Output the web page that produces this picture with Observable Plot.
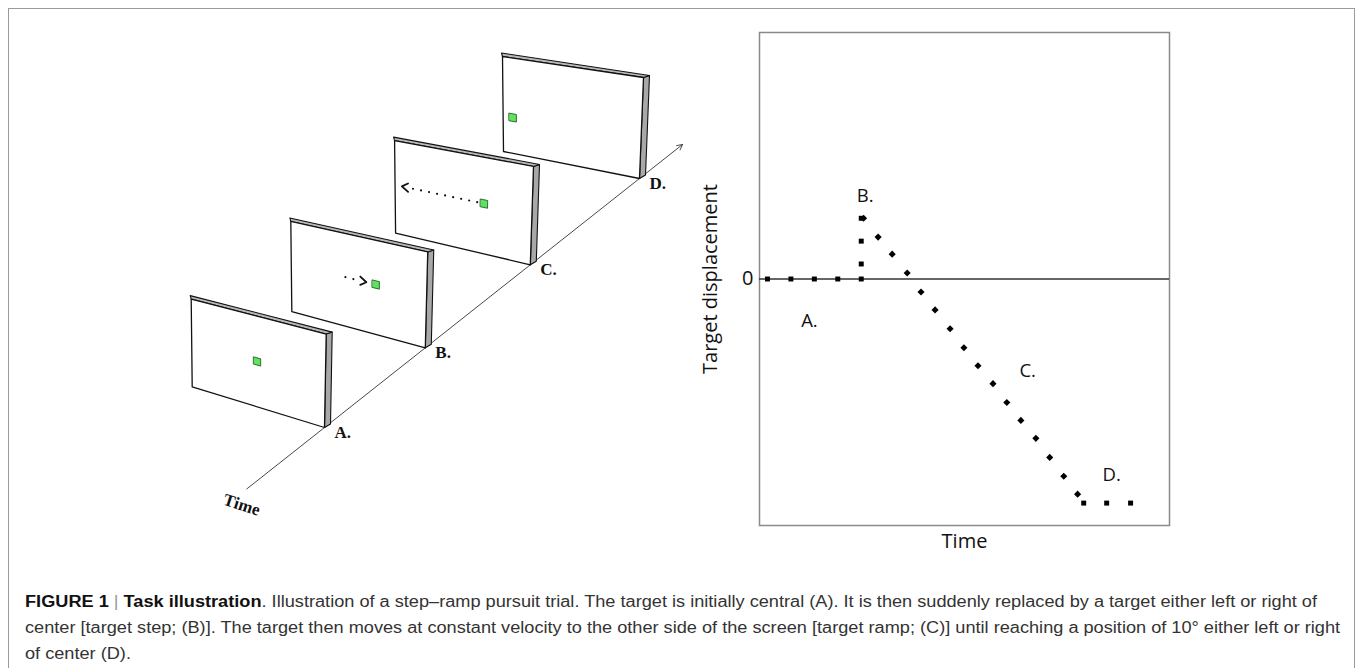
<!DOCTYPE html>
<html><head><meta charset="utf-8">
<script src="https://cdn.jsdelivr.net/npm/d3@7"></script>
<script src="https://cdn.jsdelivr.net/npm/@observablehq/plot@0.6"></script>
<style>
body{margin:0;background:#fff;}
#fig{position:relative;width:1358px;height:668px;overflow:hidden;background:#fff;}
#border{position:absolute;left:8px;top:8px;width:1347px;height:720px;border:1.5px solid #9a9a9a;box-sizing:border-box;}
#left{position:absolute;left:0;top:0;}
#right{position:absolute;left:690px;top:20px;}
#caption{position:absolute;left:25px;top:589px;font-family:"Liberation Sans",Arial,sans-serif;font-size:16px;line-height:26px;color:#333;white-space:nowrap;transform:scaleX(1.135);transform-origin:0 0;}
#caption b{color:#111;}
.bar{color:#999;font-weight:300;}
</style></head><body>
<div id="fig"><div id="border"></div><div id="left"></div><div id="right"></div>
<div id="caption"><b>FIGURE 1</b> <span class="bar">|</span> <b>Task illustration</b>. Illustration of a step–ramp pursuit trial. The target is initially central (A). It is then suddenly replaced by a target either left or right of<br>center [target step; (B)]. The target then moves at constant velocity to the other side of the screen [target ramp; (C)] until reaching a position of 10° either left or right<br>of center (D).</div>
</div>
<script>
// ---------- right panel data (time in arbitrary units, displacement in deg) ----------
const fixTime = [0, 1, 2, 3, 4];
const fixPos = [0, 0, 0, 0, 0];
const stepTime = [4, 4, 4];
const stepPos = [0.67, 1.69, 2.71];
const rampTime = [4.1, 4.72, 5.32, 5.96, 6.55, 7.15, 7.79, 8.38, 8.98, 9.62, 10.21, 10.81, 11.45, 12.04, 12.64, 13.23];
const rampPos = [2.71, 1.87, 1.11, 0.27, -0.58, -1.38, -2.22, -3.07, -3.87, -4.67, -5.51, -6.31, -7.11, -7.96, -8.8, -9.6];
const endTime = [13.49, 14.47, 15.49];
const endPos = [-10, -10, -10];
const phaseLabels = ["A.", "B.", "C.", "D."];
const phaseLabelTime = [1.79, 4.17, 11.1, 14.68];
const phaseLabelPos = [-1.87, 3.69, -4.09, -8.76];
const yTicks = [0];

// ---------- left illustration data ----------
const stages = ["A.", "B.", "C.", "D."];
const stageTime = [0, 0.96, 1.96, 3];          // position of each screen along the time axis
const targetH = [0.49, 0.625, 0.65, 0.07];     // horizontal target position on screen (0 = left, 1 = right)
const targetV = [0.5, 0.53, 0.52, 0.375];      // vertical target position on screen (0 = bottom, 1 = top)
const cueStart = [null, 0.40, 0.60, null];     // dotted motion cue start (screen units)
const cueEnd = [null, 0.555, 0.05, null];      // dotted motion cue arrow tip
const axisExtent = [-0.74, 3.41];

// ---------- illustration geometry (layout) ----------
const G = {
  origin: [324, 427], step: [105, -83],
  near: {bl: [-132.3, -40.7], tl: [-133.3, -128.4], tr: [1.7, -93.4]},
  far: {bl: [-136, -27], tl: [-137, -122], tr: [4, -101]},
  depth: {tl: [-1, -3.5], tr: [6, -2], br: [6, -3.5]}
};
const lerp = (a, b, f) => a + (b - a) * f;
function axisPoint(p) { return [G.origin[0] + p * G.step[0], G.origin[1] + p * G.step[1]]; }
function corners(k) {
  const p = stageTime[k], f = p / 3, br = axisPoint(p);
  const c = {br};
  for (const n of ["bl", "tl", "tr"]) c[n] = [br[0] + lerp(G.near[n][0], G.far[n][0], f), br[1] + lerp(G.near[n][1], G.far[n][1], f)];
  return c;
}
function P(k, s, t) {
  const c = corners(k);
  const w = [(1 - s) * (1 - t), s * (1 - t), (1 - s) * t, s * t];
  const pts = [c.bl, c.br, c.tl, c.tr];
  return [0, 1].map(i => w[0] * pts[0][i] + w[1] * pts[1][i] + w[2] * pts[2][i] + w[3] * pts[3][i]);
}
const add = (a, b) => [a[0] + b[0], a[1] + b[1]];

const faces = [], tops = [], sides = [], targets = [], cues = [], heads = [], tags = [];
for (let k = stages.length - 1; k >= 0; --k) {
  const c = corners(k);
  [c.tl, c.tr, c.br, c.bl].forEach(p => faces.push({id: k, x: p[0], y: p[1]}));
  [c.tl, add(c.tl, G.depth.tl), add(c.tr, G.depth.tr), c.tr].forEach(p => tops.push({id: k, x: p[0], y: p[1]}));
  [c.tr, add(c.tr, G.depth.tr), add(c.br, G.depth.br), c.br].forEach(p => sides.push({id: k, x: p[0], y: p[1]}));
  const s = targetH[k], t = targetV[k], ds = 0.026, dt = 0.04;
  [[s - ds, t + dt], [s + ds, t + dt], [s + ds, t - dt], [s - ds, t - dt]].forEach(([a, b]) => {
    const p = P(k, a, b); targets.push({id: k, x: p[0], y: p[1]});
  });
  if (cueStart[k] != null) {
    const dir = Math.sign(cueEnd[k] - cueStart[k]);
    [P(k, cueStart[k], t), P(k, cueEnd[k] - dir * 0.04, t)].forEach(p => cues.push({id: k, x: p[0], y: p[1]}));
    [P(k, cueEnd[k] - dir * 0.045, t + 0.045), P(k, cueEnd[k], t), P(k, cueEnd[k] - dir * 0.045, t - 0.045)]
      .forEach(p => heads.push({id: k, x: p[0], y: p[1]}));
  }
  tags.push({label: stages[k], x: c.br[0] + 10, y: c.br[1] + 5});
}
const a0 = axisPoint(axisExtent[0]), a1 = axisPoint(axisExtent[1]);

const serif = "'Liberation Serif','Times New Roman',serif";
const left = Plot.plot({
  width: 700, height: 540, margin: 0,
  x: {domain: [0, 700], range: [0, 700], axis: null},
  y: {domain: [0, 540], range: [0, 540], axis: null},
  style: {background: "transparent"},
  marks: [
    Plot.arrow([{x1: a0[0], y1: a0[1], x2: a1[0], y2: a1[1]}], {x1: "x1", y1: "y1", x2: "x2", y2: "y2", stroke: "#333", strokeWidth: 0.9, headLength: 10, headAngle: 55}),
    Plot.line(sides, {x: "x", y: "y", z: "id", curve: "linear-closed", fill: "#a8a8a8", stroke: "#111", strokeWidth: 1.1}),
    Plot.line(tops, {x: "x", y: "y", z: "id", curve: "linear-closed", fill: "#b8b8b8", stroke: "#111", strokeWidth: 1.1}),
    Plot.line(faces, {x: "x", y: "y", z: "id", curve: "linear-closed", fill: "white", stroke: "#111", strokeWidth: 1.3}),
    Plot.line(targets, {x: "x", y: "y", z: "id", curve: "linear-closed", fill: "#5fe35f", stroke: "#235f23", strokeWidth: 0.9}),
    Plot.line(cues, {x: "x", y: "y", z: "id", stroke: "#111", strokeWidth: 2.2, strokeDasharray: "0 8.2", strokeLinecap: "round"}),
    Plot.line(heads, {x: "x", y: "y", z: "id", stroke: "#111", strokeWidth: 1.8}),
    Plot.text(tags, {x: "x", y: "y", text: "label", textAnchor: "start", fontFamily: serif, fontWeight: "bold", fontSize: 17, fill: "#111"}),
    Plot.text(["Time"], {x: a0[0] - 5, y: a0[1] + 16, rotate: 18, fontFamily: serif, fontWeight: "bold", fontSize: 17, fill: "#111"})
  ]
});
document.getElementById("left").appendChild(left);

const right = Plot.plot({
  width: 500, height: 550, marginLeft: 69, marginRight: 21, marginTop: 12, marginBottom: 45,
  x: {domain: [-0.34, 17.15], axis: null},
  y: {domain: [-11, 11]},
  style: {fontFamily: "'Open Sans', sans-serif", background: "transparent", color: "#111"},
  marks: [
    Plot.frame({stroke: "#8a8a8a", strokeWidth: 1.5}),
    Plot.ruleY([0], {stroke: "#333", strokeWidth: 1.5}),
    Plot.axisY({ticks: yTicks, tickSize: 0, tickPadding: 6, fontSize: 20, label: null}),
    Plot.dot(fixTime, {x: d => d, y: (d, i) => fixPos[i], symbol: "square", r: 2.8, fill: "#000", stroke: "none"}),
    Plot.dot(stepTime, {x: d => d, y: (d, i) => stepPos[i], symbol: "square", r: 2.8, fill: "#000", stroke: "none"}),
    Plot.dot(rampTime, {x: d => d, y: (d, i) => rampPos[i], symbol: "diamond2", r: 3.2, fill: "#000", stroke: "none"}),
    Plot.dot(endTime, {x: d => d, y: (d, i) => endPos[i], symbol: "square", r: 2.8, fill: "#000", stroke: "none"}),
    Plot.text(phaseLabels, {x: (d, i) => phaseLabelTime[i], y: (d, i) => phaseLabelPos[i], text: d => d, fontSize: 18.5, fill: "#111"}),
    Plot.text(["Target displacement"], {frameAnchor: "left", dx: -49, rotate: -90, textAnchor: "middle", fontSize: 20, fill: "#111"}),
    Plot.text(["Time"], {frameAnchor: "bottom", dy: 22, fontSize: 20, fill: "#111"})
  ]
});
document.getElementById("right").appendChild(right);
</script>
</body></html>
